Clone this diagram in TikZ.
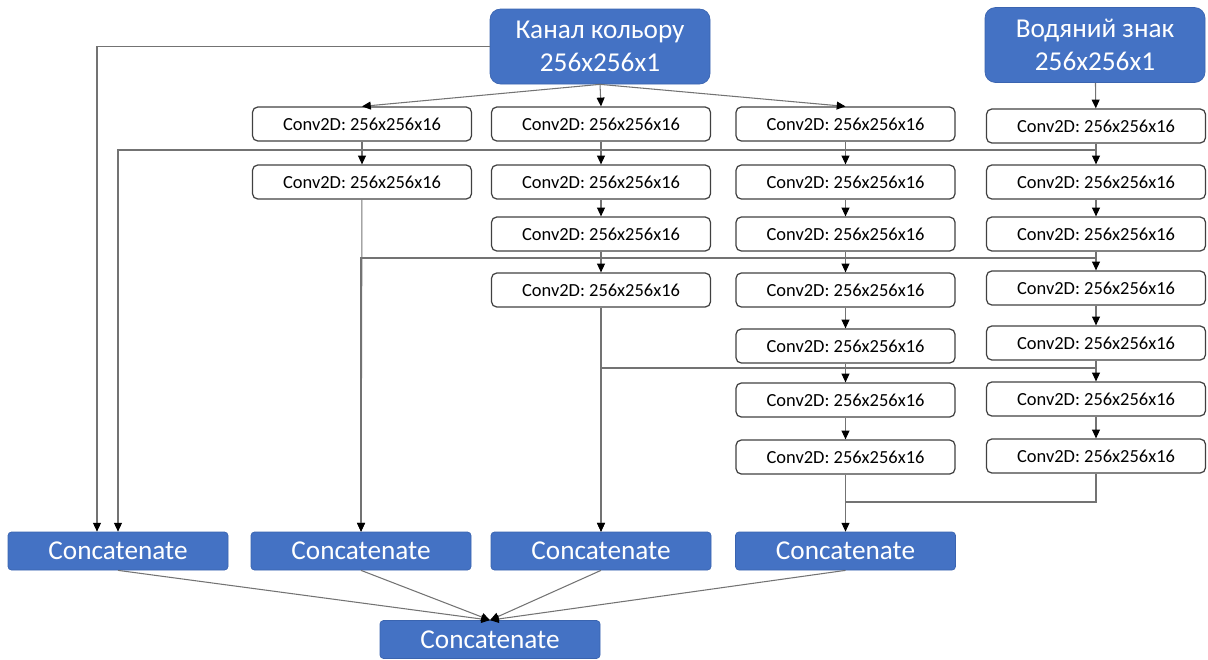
\documentclass[tikz,border=0pt]{standalone}
\usepackage{fontspec}
\setmainfont{Carlito}
\usetikzlibrary{arrows.meta}
\definecolor{boxblue}{HTML}{4472C4}
\definecolor{boxedge}{HTML}{3A64B0}

\begin{document}
\begin{tikzpicture}[>={Triangle[width=4.5pt,length=5pt,color=black,fill=black]},
    conv/.style={draw=black!75, line width=0.7pt, rounded corners=3pt, minimum width=4.38cm, minimum height=0.68cm, inner sep=0pt, font=\fontsize{10.5}{12}\selectfont},
    inp/.style={fill=boxblue, draw=boxedge, rounded corners=6pt, text=white, minimum width=4.4cm, minimum height=1.5cm, align=center, font=\fontsize{15.5}{19}\selectfont},
    cat/.style={fill=boxblue, draw=boxedge, rounded corners=2pt, text=white, minimum width=4.4cm, minimum height=0.76cm, inner sep=0pt, font=\fontsize{15.5}{19}\selectfont},
    link/.style={->, black!55, line width=0.6pt},
    plain/.style={black!55, line width=0.6pt}]
    \useasboundingbox (0, 0) rectangle (24.16, -13.18);

    \node[inp] at (12.0, -0.93)(in0){Канал кольору\\256x256x1};
    \node[inp] at (21.9, -0.9)(wm0){Водяний знак\\256x256x1};

    \node[conv] at (7.24, -2.48)(a1){Conv2D: 256x256x16};
    \node[conv] at (7.24, -3.64)(a2){Conv2D: 256x256x16};

    \node[conv] at (12.02, -2.48)(b1){Conv2D: 256x256x16};
    \node[conv] at (12.02, -3.64)(b2){Conv2D: 256x256x16};
    \node[conv] at (12.02, -4.68)(b3){Conv2D: 256x256x16};
    \node[conv] at (12.02, -5.80)(b4){Conv2D: 256x256x16};

    \node[conv] at (16.91, -2.48)(c1){Conv2D: 256x256x16};
    \node[conv] at (16.91, -3.64)(c2){Conv2D: 256x256x16};
    \node[conv] at (16.91, -4.68)(c3){Conv2D: 256x256x16};
    \node[conv] at (16.91, -5.80)(c4){Conv2D: 256x256x16};
    \node[conv] at (16.91, -6.92)(c5){Conv2D: 256x256x16};
    \node[conv] at (16.91, -8.00)(c6){Conv2D: 256x256x16};
    \node[conv] at (16.91, -9.14)(c7){Conv2D: 256x256x16};

    \node[conv] at (21.92, -2.52)(w1){Conv2D: 256x256x16};
    \node[conv] at (21.92, -3.64)(w2){Conv2D: 256x256x16};
    \node[conv] at (21.92, -4.68)(w3){Conv2D: 256x256x16};
    \node[conv] at (21.92, -5.76)(w4){Conv2D: 256x256x16};
    \node[conv] at (21.92, -6.86)(w5){Conv2D: 256x256x16};
    \node[conv] at (21.92, -7.98)(w6){Conv2D: 256x256x16};
    \node[conv] at (21.92, -9.12)(w7){Conv2D: 256x256x16};

    \node[cat] at (2.36, -11.02)(cat1){Concatenate};
    \node[cat] at (7.22, -11.02)(cat2){Concatenate};
    \node[cat] at (12.02, -11.02)(cat3){Concatenate};
    \node[cat] at (16.91, -11.02)(cat4){Concatenate};
    \node[cat] at (9.8, -12.79)(fin){Concatenate};

    \coordinate (j1) at (21.92, -3.0);
    \coordinate (j2) at (21.92, -5.16);
    \coordinate (j3) at (21.92, -7.36);
    \coordinate (j4) at (16.91, -10.04);

    \path[link]
    (in0.south)edge(a1.north)
    (in0.south)edge(b1.north)
    (in0.south)edge(c1.north)
    (a1)edge(a2)
    (b1)edge(b2)
    (b2)edge(b3)
    (b3)edge(b4)
    (c1)edge(c2)
    (c2)edge(c3)
    (c3)edge(c4)
    (c4)edge(c5)
    (c5)edge(c6)
    (c6)edge(c7)
    (wm0)edge(w1)
    (w1)edge(w2)
    (w2)edge(w3)
    (w3)edge(w4)
    (w4)edge(w5)
    (w5)edge(w6)
    (w6)edge(w7)
    (a2)edge(cat2)
    (b4)edge(cat3)
    (c7)edge(cat4)
    (cat1.south)edge(fin.north)
    (cat2.south)edge(fin.north)
    (cat3.south)edge(fin.north)
    (cat4.south)edge(fin.north)
    ;

    % skip links to the concatenations
    \draw[link] (in0.west) -| ([xshift=-0.42cm]cat1.north);
    \draw[link] (w1.south) -- (j1) -| (cat1.north);
    \draw[link] (w3.south) -- (j2) -| (cat2.north);
    \draw[link] (w5.south) -- (j3) -| (cat3.north);
    \draw[plain] (w7.south) |- (j4);
\end{tikzpicture}
\end{document}
